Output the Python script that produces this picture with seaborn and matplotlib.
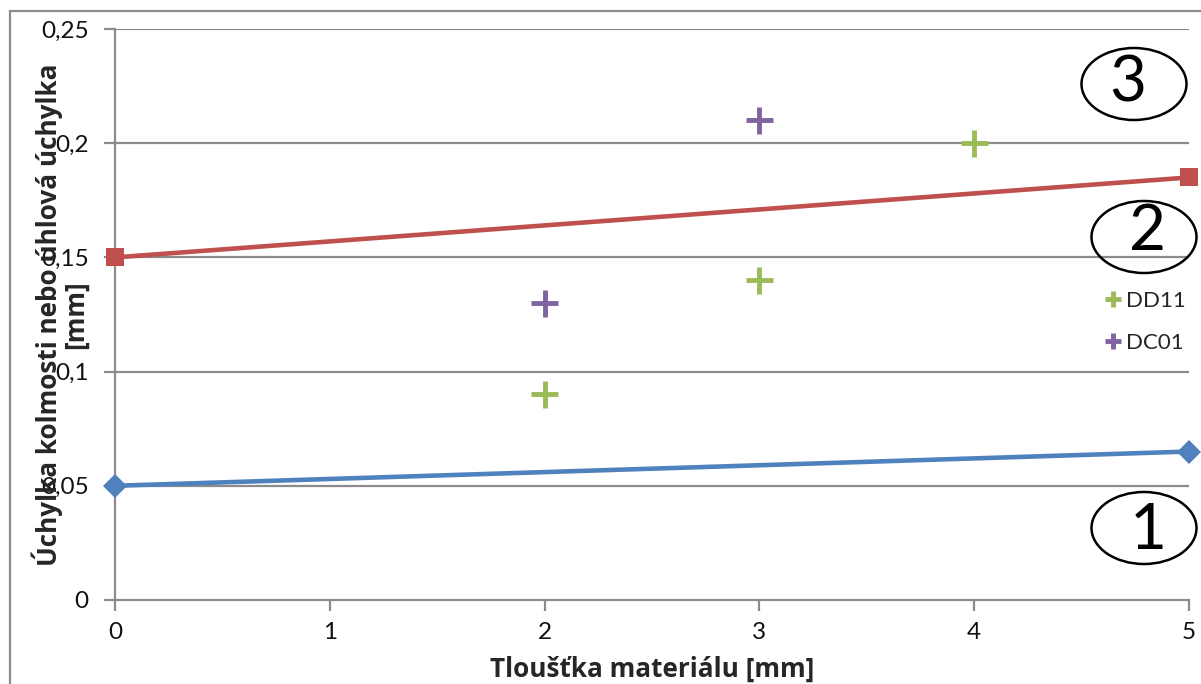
import matplotlib
matplotlib.use("Agg")
import matplotlib.pyplot as plt
from matplotlib.patches import Ellipse, Rectangle
import seaborn as sns
import pandas as pd

# --- data ---
limit_x = [0, 5]
limit1_y = [0.05, 0.065]
limit2_y = [0.15, 0.185]

dd11_x = [2, 3, 4]
dd11_y = [0.09, 0.14, 0.2]
dc01_x = [2, 3]
dc01_y = [0.13, 0.21]

x_ticks = [0, 1, 2, 3, 4, 5]
y_ticks = [0, 0.05, 0.1, 0.15, 0.2, 0.25]
y_tick_labels = ["0", "0,05", "0,1", "0,15", "0,2", "0,25"]
zone_labels = ["1", "2", "3"]

sns.set_theme(style="white")
plt.rcParams["font.family"] = ["Lato", "DejaVu Sans"]

W, H = 1201, 684
fig = plt.figure(figsize=(W / 100, H / 100), dpi=100)
ax = fig.add_axes([115 / W, 1 - 600 / H, (1189 - 115) / W, (600 - 29) / H])

grey = "#8c8c8c"
ax.set_xlim(0, 5)
ax.set_ylim(0, 0.25)
for y in y_ticks[1:]:
    ax.axhline(y, color=grey, lw=1.6, zorder=0)

df_l1 = pd.DataFrame({"x": limit_x, "y": limit1_y})
df_l2 = pd.DataFrame({"x": limit_x, "y": limit2_y})
sns.lineplot(data=df_l1, x="x", y="y", ax=ax, color="#4F81BD", lw=3.3,
             marker="D", markersize=12, markeredgewidth=0, legend=False,
             clip_on=False, zorder=3)
sns.lineplot(data=df_l2, x="x", y="y", ax=ax, color="#C0504D", lw=3.3,
             marker="s", markersize=13.5, markeredgewidth=0, legend=False,
             clip_on=False, zorder=3)

df_pts = pd.DataFrame({
    "x": dd11_x + dc01_x,
    "y": dd11_y + dc01_y,
    "mat": ["DD11"] * len(dd11_x) + ["DC01"] * len(dc01_x),
})
sns.scatterplot(data=df_pts, x="x", y="y", hue="mat", ax=ax,
                palette={"DD11": "#9BBB59", "DC01": "#8064A2"},
                marker="+", s=380, linewidth=3.5, zorder=4)

leg = ax.legend(loc="center left", bbox_to_anchor=(1086 / W, 1 - 322 / H),
                bbox_transform=fig.transFigure, frameon=False, fontsize=16,
                markerscale=0.6, handlelength=0.6, handletextpad=0.3,
                labelspacing=1.0)

ax.set_xticks(x_ticks)
ax.set_xticklabels([str(v) for v in x_ticks])
ax.set_yticks(y_ticks)
ax.set_yticklabels(y_tick_labels)
ax.tick_params(axis="both", which="major", labelsize=17.5, colors=grey,
               labelcolor="#111111", length=8, width=1.6, direction="out",
               bottom=True, left=True)
ax.tick_params(axis="y", pad=11)
ax.tick_params(axis="x", pad=8)

for side in ["top", "right"]:
    ax.spines[side].set_visible(False)
for side in ["left", "bottom"]:
    ax.spines[side].set_color(grey)
    ax.spines[side].set_linewidth(1.6)

lab_font = dict(fontsize=18.8, fontweight="bold", family=["Open Sans", "DejaVu Sans"])
ax.set_xlabel("Tloušťka materiálu [mm]", labelpad=9, **lab_font)
ax.set_ylabel("Úchylka kolmosti nebo úhlová úchylka\n[mm]",
              linespacing=0.95, **lab_font)
ax.yaxis.set_label_coords(-0.024, 0.5)

# zone ellipses (figure coordinates)
zones = [((1144, 528), (1148, 531)), ((1144, 237), (1148, 232)),
         ((1134, 84), (1128, 84))]
for lab, ((ex, ey), (tx, ty)) in zip(zone_labels, zones):
    e = Ellipse((ex / W, 1 - ey / H), 105 / W, 72 / H, transform=fig.transFigure,
                fill=False, edgecolor="black", lw=1.8, zorder=5)
    fig.patches.append(e)
    fig.text(tx / W, 1 - ty / H, lab, fontsize=46, ha="center", va="center",
             color="black")

# outer border
fig.patches.append(Rectangle((10 / W, -0.1), 2, (H - 11) / H + 0.1,
                             transform=fig.transFigure, fill=False,
                             edgecolor=grey, lw=1.6))

fig.savefig("out.png", dpi=100)
